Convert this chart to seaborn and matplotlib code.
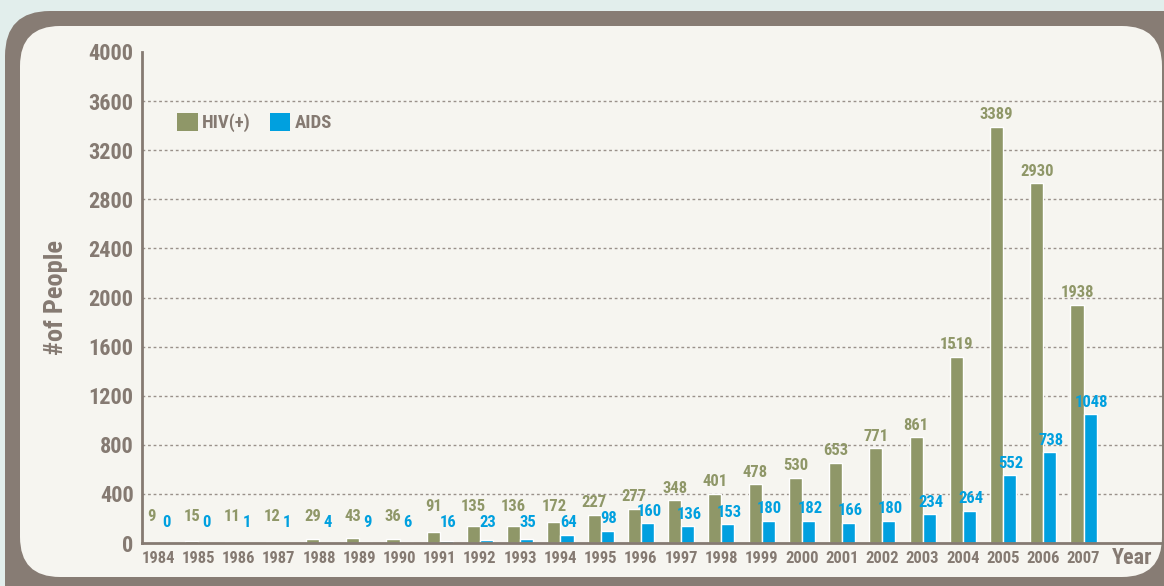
import matplotlib
matplotlib.use("Agg")
import matplotlib.pyplot as plt
import seaborn as sns
import pandas as pd
import numpy as np
from matplotlib.patches import FancyBboxPatch, Patch
from matplotlib.transforms import IdentityTransform
from matplotlib.ticker import FixedLocator
from matplotlib import font_manager as fm

years = [str(y) for y in range(1984, 2008)]
hiv = [9, 15, 11, 12, 29, 43, 36, 91, 135, 136, 172, 227, 277, 348, 401, 478,
       530, 653, 771, 861, 1519, 3389, 2930, 1938]
aids = [0, 0, 1, 1, 4, 9, 6, 16, 23, 35, 64, 98, 160, 136, 153, 180,
        182, 166, 180, 234, 264, 552, 738, 1048]
series = ["HIV(+)", "AIDS"]
y_ticks = list(range(0, 4001, 400))

OLIVE = "#8f9768"
BLUE = "#00a0df"
GRAY = "#857a72"
BORDER = "#877c74"
PANEL = "#f6f5f0"
BG = "#e2eeec"

sns.set_theme(style="white")
names = {f.name for f in fm.fontManager.ttflist}
fams = [n for n in ["Liberation Sans Narrow", "Roboto Condensed", "Open Sans Condensed",
                    "DejaVu Sans"] if n in names] or ["DejaVu Sans"]
plt.rcParams["font.family"] = fams
plt.rcParams["font.stretch"] = "condensed"
plt.rcParams["font.weight"] = "bold"

W, H = 1164, 586
fig = plt.figure(figsize=(W / 100, H / 100), dpi=100, facecolor=BG)

# frame (pixel coords, origin bottom-left)
outer = FancyBboxPatch((5, -60), 1220, 575 + 60, boxstyle="round,pad=0,rounding_size=45",
                       transform=IdentityTransform(), facecolor=BORDER, edgecolor="none",
                       zorder=-20)
inner = FancyBboxPatch((20, 9), 1142, 560 - 9, boxstyle="round,pad=0,rounding_size=40",
                       transform=IdentityTransform(), facecolor=PANEL, edgecolor="none",
                       zorder=-19)
fig.patches.extend([outer, inner])

ax_left, ax_right, ax_bottom, ax_top = 142, 1162, 43, 534
ax = fig.add_axes([ax_left / W, ax_bottom / H, (ax_right - ax_left) / W, (ax_top - ax_bottom) / H])
ax.set_facecolor("none")

df = pd.DataFrame({
    "Year": years * 2,
    "value": hiv + aids,
    "series": [series[0]] * len(years) + [series[1]] * len(years),
})
sns.barplot(data=df, x="Year", y="value", hue="series", order=years, hue_order=series,
            palette=[OLIVE, BLUE], width=0.65, saturation=1, ax=ax, legend=False)

ax.set_ylim(0, 4000)
ax.set_xlim(-0.4, 24.95)

for yv in y_ticks[1:-1]:
    ax.axhline(yv, color="#9a918a", lw=1.0, ls=(0, (2, 2)), zorder=0)

for s in ["top", "right"]:
    ax.spines[s].set_visible(False)
for s in ["left", "bottom"]:
    ax.spines[s].set_color(GRAY)
    ax.spines[s].set_linewidth(2)

ax.set_yticks(y_ticks)
ax.set_yticklabels([str(v) for v in y_ticks], fontsize=16, fontweight="bold", color=GRAY)
ax.tick_params(axis="y", length=0, pad=6)
ax.set_xticks(range(len(years)))
ax.set_xticklabels(years, fontsize=12, fontweight="bold", color=GRAY)
ax.tick_params(axis="x", which="major", length=0, pad=6)
ax.xaxis.set_minor_locator(FixedLocator(np.arange(0.5, len(years), 1.0)))
ax.tick_params(axis="x", which="minor", direction="in", length=4, width=1.5, color=GRAY)

ax.set_xlabel("")
ax.set_ylabel("#of People", fontsize=19, fontweight="bold", color=GRAY, labelpad=15)
fig.text(1112 / W, 1 - 558 / H, "Year", fontsize=16, fontweight="bold", color=GRAY,
         ha="left", va="center")

off = 0.1625
for i in range(len(years)):
    hv = hiv[i]
    if hv >= 190:
        hy = hv + 100
    elif hv >= 50:
        hy = 295
    else:
        hy = 212
    ax.text(i - off, hy, str(hv), ha="center", va="center", fontsize=12,
            fontweight="bold", color=OLIVE)
    av = aids[i]
    ay = max(av, 70) + 98
    ax.text(i + off + 0.04, ay, str(av), ha="center", va="center", fontsize=12,
            fontweight="bold", color=BLUE)

handles = [Patch(facecolor=OLIVE, edgecolor="none"), Patch(facecolor=BLUE, edgecolor="none")]
leg = ax.legend(handles, series, loc="upper left",
                bbox_to_anchor=((177 - ax_left) / (ax_right - ax_left),
                                (H - 113 - ax_bottom) / (ax_top - ax_bottom)),
                ncol=2, frameon=False, handlelength=1.1, handleheight=1.1,
                handletextpad=0.25, columnspacing=1.0, borderpad=0, borderaxespad=0,
                prop={"size": 13.5, "weight": "bold"})
for t in leg.get_texts():
    t.set_color(GRAY)

fig.savefig("out.png", dpi=100, facecolor=BG)
